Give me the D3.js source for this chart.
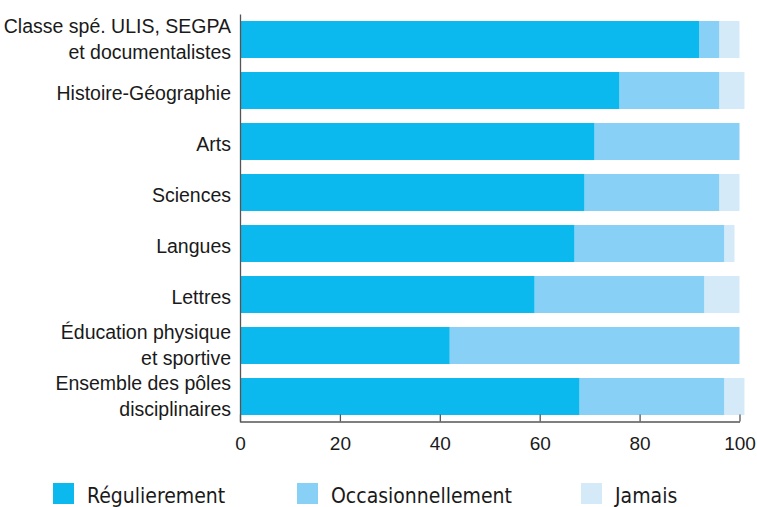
<!DOCTYPE html>
<html>
<head>
<meta charset="utf-8">
<script src="https://cdn.jsdelivr.net/npm/d3@7"></script>
<style>
  body { margin: 0; background: #fff; }
  svg { display: block; font-family: 'DejaVu Sans Condensed', 'DejaVu Sans', sans-serif; }
</style>
</head>
<body>
<div id="container"></div>
<script>
// categories, top to bottom ("\n" = line break in the label)
const categories = [
  'Classe spé. ULIS, SEGPA\net documentalistes',
  'Histoire-Géographie',
  'Arts',
  'Sciences',
  'Langues',
  'Lettres',
  'Éducation physique\net sportive',
  'Ensemble des pôles\ndisciplinaires'
];
const regulierement = [92, 76, 71, 69, 67, 59, 42, 68];
const occasionnellement = [4, 20, 29, 27, 30, 34, 58, 29];
const jamais = [4, 5, 0, 4, 2, 7, 0, 4];
const seriesNames = ['Régulierement', 'Occasionnellement', 'Jamais'];
const xTicks = [0, 20, 40, 60, 80, 100];

//_____ VARIABLES _____
const W = 757, H = 507;
const colors = ['#0cb9ee', '#88d0f6', '#d5eaf9'];
const axisColor = '#555';

const rows = categories.map((c, i) => ({
  cat: c,
  'Régulierement': regulierement[i],
  'Occasionnellement': occasionnellement[i],
  'Jamais': jamais[i]
}));

const stacked = d3.stack().keys(seriesNames)(rows);

//_____ SCALES _____
const x = d3.scaleLinear().domain([0, 100]).range([240, 739.5]);
const y = d3.scaleBand().domain(categories).range([14, 422])
  .paddingInner(0.275).paddingOuter(0.1375);

const svg = d3.select('#container').append('svg')
  .attr('width', W).attr('height', H);

//_____ BARS _____
svg.append('g').selectAll('g')
  .data(stacked)
  .join('g')
  .attr('fill', (d, i) => colors[i])
  .selectAll('rect')
  .data(d => d)
  .join('rect')
  .attr('x', d => x(d[0]))
  .attr('y', d => y(d.data.cat))
  .attr('width', d => Math.max(0, x(d[1]) - x(d[0])))
  .attr('height', y.bandwidth());

//_____ Y AXIS _____
const yAxis = svg.append('g')
  .attr('transform', 'translate(240,0)')
  .call(d3.axisLeft(y).tickSize(0).tickPadding(9));
yAxis.select('.domain').attr('stroke', axisColor).attr('stroke-width', 1.3);
yAxis.selectAll('.tick text')
  .attr('fill', '#1a1a1a')
  .style('font-size', '19.5px')
  .each(function (d) {
    const t = d3.select(this);
    const lines = d.split('\n');
    t.text(null).attr('dy', null);
    if (lines.length === 1) {
      t.append('tspan').attr('x', -9).attr('y', 0).attr('dy', '0.5em').text(lines[0]);
    } else {
      t.append('tspan').attr('x', -9).attr('y', -7).text(lines[0]);
      t.append('tspan').attr('x', -9).attr('y', 19).text(lines[1]);
    }
  });

//_____ X AXIS _____
const xAxis = svg.append('g')
  .attr('transform', 'translate(0,421.5)')
  .call(d3.axisBottom(x).tickValues(xTicks).tickSizeInner(-7).tickSizeOuter(0).tickPadding(15));
xAxis.select('.domain').attr('stroke', axisColor).attr('stroke-width', 1.3);
xAxis.selectAll('.tick line').attr('stroke', axisColor).attr('stroke-width', 1.3);
xAxis.selectAll('.tick text').attr('fill', '#1a1a1a').style('font-size', '19px');

//_____ LEGEND _____
const legendX = [53, 297, 581];
const legend = svg.append('g');
seriesNames.forEach((name, i) => {
  legend.append('rect')
    .attr('x', legendX[i]).attr('y', 483)
    .attr('width', 21).attr('height', 21)
    .attr('fill', colors[i]);
  legend.append('text')
    .attr('x', legendX[i] + 34).attr('y', 503)
    .attr('fill', '#1a1a1a')
    .style('font-size', '21px')
    .text(name);
});
</script>
</body>
</html>
